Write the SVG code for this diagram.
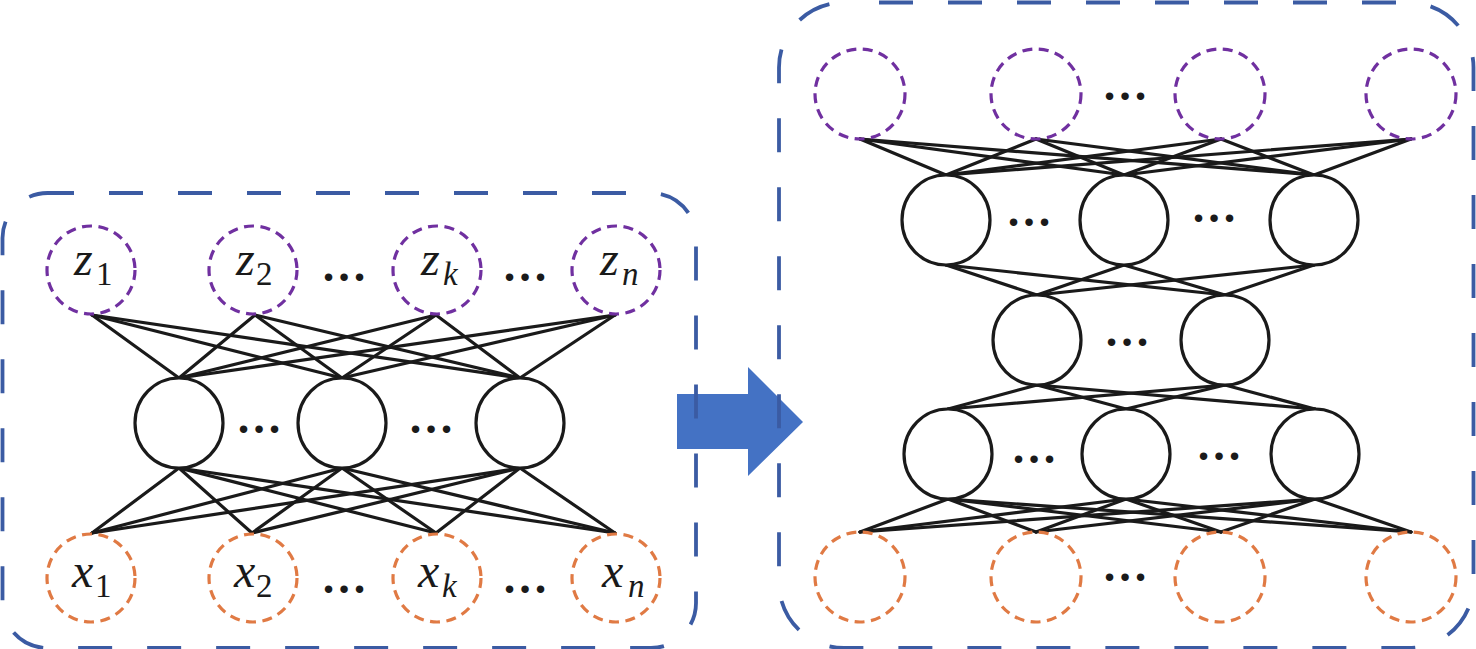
<svg xmlns="http://www.w3.org/2000/svg" width="1476" height="649" viewBox="0 0 1476 649">
<style>
.bg{fill:#ffffff}
.box{fill:none;stroke:#3b5ba3;stroke-width:3.8;stroke-dasharray:34 35}
.zc{fill:none;stroke:#7030a0;stroke-width:3.2;stroke-dasharray:10 6.5}
.xc{fill:none;stroke:#e07a44;stroke-width:3.2;stroke-dasharray:10 6.5}
.hc{fill:#ffffff;stroke:#1a1a1a;stroke-width:3.2}
.ln{stroke:#1a1a1a;stroke-width:3.2;stroke-linecap:round}
text{font-family:'Liberation Serif','Tinos','Times New Roman','DejaVu Serif',serif}
.lbl{font-style:italic;font-size:48px;fill:#1a1a1a}
.sub{font-size:33px;fill:#1a1a1a}
.subi{font-style:italic;font-size:33px;fill:#1a1a1a}
.dots{font-size:46px;font-weight:bold;fill:#1a1a1a;text-anchor:middle}
.arrow{fill:#4472c4}
</style>
<rect class="bg" x="0" y="0" width="1476" height="649"/>

<g id="arrow"><polygon class="arrow" points="677,394 748,394 748,367 803,422 748,476 748,449 677,449"/></g>

<g id="panel-left-frame"><rect class="box" x="2.5" y="193" width="693.5" height="455" rx="45" ry="45" style="stroke-dashoffset:7.5"/></g>
<g id="panel-right-frame"><rect class="box" x="779" y="2.5" width="694.5" height="645.5" rx="65" ry="65" style="stroke-dashoffset:34"/></g>

<g id="connectors">
<g>
<line class="ln" x1="92" y1="315" x2="179" y2="378"/><line class="ln" x1="92" y1="315" x2="342" y2="378"/><line class="ln" x1="92" y1="315" x2="520" y2="378"/>
<line class="ln" x1="255" y1="315" x2="179" y2="378"/><line class="ln" x1="255" y1="315" x2="342" y2="378"/><line class="ln" x1="255" y1="315" x2="520" y2="378"/>
<line class="ln" x1="436" y1="315" x2="179" y2="378"/><line class="ln" x1="436" y1="315" x2="342" y2="378"/><line class="ln" x1="436" y1="315" x2="520" y2="378"/>
<line class="ln" x1="615" y1="315" x2="179" y2="378"/><line class="ln" x1="615" y1="315" x2="342" y2="378"/><line class="ln" x1="615" y1="315" x2="520" y2="378"/>
</g>
<g>
<line class="ln" x1="179" y1="468" x2="92" y2="533"/><line class="ln" x1="179" y1="468" x2="252" y2="533"/><line class="ln" x1="179" y1="468" x2="436" y2="533"/><line class="ln" x1="179" y1="468" x2="615" y2="533"/>
<line class="ln" x1="342" y1="468" x2="92" y2="533"/><line class="ln" x1="342" y1="468" x2="252" y2="533"/><line class="ln" x1="342" y1="468" x2="436" y2="533"/><line class="ln" x1="342" y1="468" x2="615" y2="533"/>
<line class="ln" x1="520" y1="468" x2="92" y2="533"/><line class="ln" x1="520" y1="468" x2="252" y2="533"/><line class="ln" x1="520" y1="468" x2="436" y2="533"/><line class="ln" x1="520" y1="468" x2="615" y2="533"/>
</g>
<g>
<line class="ln" x1="860" y1="139" x2="946" y2="175"/><line class="ln" x1="860" y1="139" x2="1124" y2="175"/><line class="ln" x1="860" y1="139" x2="1314" y2="175"/>
<line class="ln" x1="1036" y1="139" x2="946" y2="175"/><line class="ln" x1="1036" y1="139" x2="1124" y2="175"/><line class="ln" x1="1036" y1="139" x2="1314" y2="175"/>
<line class="ln" x1="1221" y1="139" x2="946" y2="175"/><line class="ln" x1="1221" y1="139" x2="1124" y2="175"/><line class="ln" x1="1221" y1="139" x2="1314" y2="175"/>
<line class="ln" x1="1411" y1="139" x2="946" y2="175"/><line class="ln" x1="1411" y1="139" x2="1124" y2="175"/><line class="ln" x1="1411" y1="139" x2="1314" y2="175"/>
</g>
<g>
<line class="ln" x1="946" y1="265" x2="1037" y2="295"/><line class="ln" x1="946" y1="265" x2="1225" y2="295"/>
<line class="ln" x1="1124" y1="265" x2="1037" y2="295"/><line class="ln" x1="1124" y1="265" x2="1225" y2="295"/>
<line class="ln" x1="1314" y1="265" x2="1037" y2="295"/><line class="ln" x1="1314" y1="265" x2="1225" y2="295"/>
</g>
<g>
<line class="ln" x1="1037" y1="385" x2="948" y2="409"/><line class="ln" x1="1037" y1="385" x2="1126" y2="409"/><line class="ln" x1="1037" y1="385" x2="1315" y2="409"/>
<line class="ln" x1="1225" y1="385" x2="948" y2="409"/><line class="ln" x1="1225" y1="385" x2="1126" y2="409"/><line class="ln" x1="1225" y1="385" x2="1315" y2="409"/>
</g>
<g>
<line class="ln" x1="948" y1="499" x2="860" y2="532"/><line class="ln" x1="948" y1="499" x2="1036" y2="532"/><line class="ln" x1="948" y1="499" x2="1221" y2="532"/><line class="ln" x1="948" y1="499" x2="1411" y2="532"/>
<line class="ln" x1="1126" y1="499" x2="860" y2="532"/><line class="ln" x1="1126" y1="499" x2="1036" y2="532"/><line class="ln" x1="1126" y1="499" x2="1221" y2="532"/><line class="ln" x1="1126" y1="499" x2="1411" y2="532"/>
<line class="ln" x1="1315" y1="499" x2="860" y2="532"/><line class="ln" x1="1315" y1="499" x2="1036" y2="532"/><line class="ln" x1="1315" y1="499" x2="1221" y2="532"/><line class="ln" x1="1315" y1="499" x2="1411" y2="532"/>
</g>
</g>

<g id="z1"><circle class="zc" cx="91" cy="270" r="44"/><text class="lbl" x="74" y="275">z</text><text class="sub" x="96" y="285">1</text></g>
<g id="z2"><circle class="zc" cx="253" cy="270" r="44"/><text class="lbl" x="236" y="275">z</text><text class="sub" x="256" y="285">2</text></g>
<g id="zk"><circle class="zc" cx="437" cy="270" r="44"/><text class="lbl" x="421" y="275">z</text><text class="subi" x="443" y="285">k</text></g>
<g id="zn"><circle class="zc" cx="616" cy="270" r="44"/><text class="lbl" x="600" y="275">z</text><text class="subi" x="622" y="285">n</text></g>
<text class="dots" x="344" y="281">…</text>
<text class="dots" x="525" y="281">…</text>

<g id="h1"><ellipse class="hc" cx="179" cy="423" rx="44" ry="45"/></g>
<g id="h2"><ellipse class="hc" cx="342" cy="423" rx="44" ry="45"/></g>
<g id="h3"><ellipse class="hc" cx="520" cy="423" rx="44" ry="45"/></g>
<text class="dots" x="259" y="433">…</text>
<text class="dots" x="431" y="433">…</text>

<g id="x1"><circle class="xc" cx="91" cy="578" r="44"/><text class="lbl" x="72" y="587">x</text><text class="sub" x="95" y="597">1</text></g>
<g id="x2"><circle class="xc" cx="253" cy="578" r="44"/><text class="lbl" x="234" y="587">x</text><text class="sub" x="256" y="597">2</text></g>
<g id="xk"><circle class="xc" cx="437" cy="578" r="44"/><text class="lbl" x="418" y="587">x</text><text class="subi" x="442" y="597">k</text></g>
<g id="xn"><circle class="xc" cx="616" cy="578" r="44"/><text class="lbl" x="602" y="587">x</text><text class="subi" x="628" y="597">n</text></g>
<text class="dots" x="344" y="593">…</text>
<text class="dots" x="525" y="593">…</text>

<g id="rz1"><circle class="zc" cx="860" cy="94" r="45"/></g>
<g id="rz2"><circle class="zc" cx="1036" cy="94" r="45"/></g>
<g id="rz3"><circle class="zc" cx="1220" cy="94" r="45"/></g>
<g id="rz4"><circle class="zc" cx="1411" cy="94" r="45"/></g>
<text class="dots" x="1125" y="100">…</text>

<g id="a1"><ellipse class="hc" cx="946" cy="220" rx="44" ry="45"/></g>
<g id="a2"><ellipse class="hc" cx="1124" cy="220" rx="44" ry="45"/></g>
<g id="a3"><ellipse class="hc" cx="1314" cy="220" rx="44" ry="45"/></g>
<text class="dots" x="1029" y="226">…</text>
<text class="dots" x="1214" y="222">…</text>

<g id="b1"><ellipse class="hc" cx="1037" cy="340" rx="44" ry="45"/></g>
<g id="b2"><ellipse class="hc" cx="1225" cy="340" rx="44" ry="45"/></g>
<text class="dots" x="1127" y="346">…</text>

<g id="c1"><ellipse class="hc" cx="948" cy="454" rx="44" ry="45"/></g>
<g id="c2"><ellipse class="hc" cx="1126" cy="454" rx="44" ry="45"/></g>
<g id="c3"><ellipse class="hc" cx="1315" cy="454" rx="44" ry="45"/></g>
<text class="dots" x="1034" y="463">…</text>
<text class="dots" x="1219" y="460">…</text>

<g id="rx1"><circle class="xc" cx="860" cy="577" r="45"/></g>
<g id="rx2"><circle class="xc" cx="1036" cy="577" r="45"/></g>
<g id="rx3"><circle class="xc" cx="1220" cy="577" r="45"/></g>
<g id="rx4"><circle class="xc" cx="1411" cy="577" r="45"/></g>
<text class="dots" x="1125" y="581">…</text>
</svg>
